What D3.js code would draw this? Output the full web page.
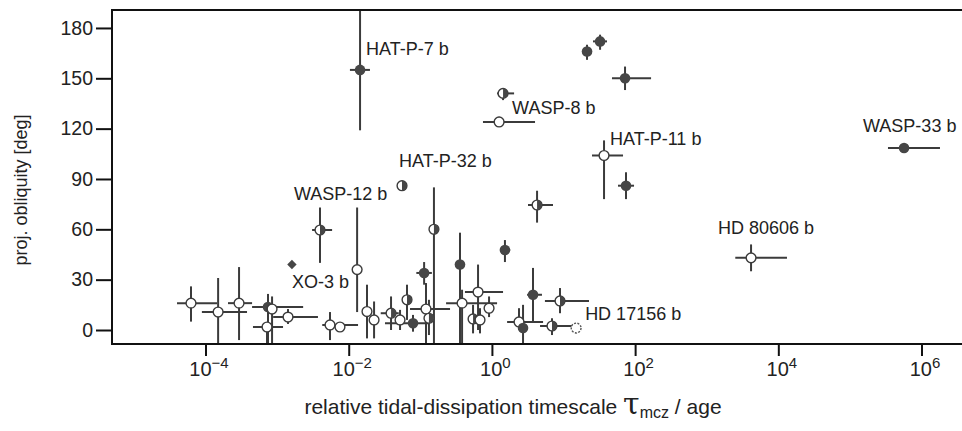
<!DOCTYPE html>
<html>
<head>
<meta charset="utf-8">
<script src="https://cdn.jsdelivr.net/npm/d3@7"></script>
<style>
  html, body { margin: 0; padding: 0; background: #fff; }
  svg { display: block; font-family: "Liberation Sans", Arial, sans-serif; }
</style>
</head>
<body>
<svg id="chart" width="962" height="431"></svg>
<script>
// ---------- data ----------
// relative tidal-dissipation timescale tau_mcz / age (central value, lower, upper)
const tau   = [1.44e-2, 1.43, 1.26, 21.3, 32.4, 72.3, 36.8, 74.6, 5.70e5, 4160,
               4.27, 0.0555, 3.97e-3, 1.61e-3, 6.27e-5, 1.50e-4, 2.94e-4, 7.46e-4, 8.5e-4, 7.23e-4,
               1.42e-3, 5.48e-3, 7.55e-3, 1.31e-2, 1.80e-2, 2.26e-2, 3.90e-2, 5.21e-2, 6.52e-2, 7.91e-2,
               0.113, 0.155, 0.120, 0.132, 0.358, 0.383, 0.64, 0.912, 0.545, 0.682,
               1.52, 2.39, 2.72, 3.75, 8.93, 6.90, 15.0];
const tauLo = [1.04e-2, 1.18, 0.75, 18.1, 25.8, 47.5, 25.0, 57.7, 3.40e5, 2506,
               3.19, null, 3.08e-3, null, 4.0e-5, 8.9e-5, 2.06e-4, 4.47e-4, null, 4.6e-4,
               8.8e-4, 4.27e-3, null, 1.12e-2, 1.6e-2, null, 2.8e-2, 4.5e-2, null, 3.21e-2,
               0.088, null, 0.0718, null, null, 0.229, 0.42, 0.78, null, null,
               1.3, 1.63, null, 3.1, 5.50, 4.70, null];
const tauHi = [1.98e-2, 2.04, 4.0, 25.0, 40.5, 167, 67.8, 96.6, 1.81e6, 13210,
               7.13, null, 5.86e-3, null, 1.45e-4, 3.8e-4, 4.47e-4, 2.31e-3, null, 1.21e-3,
               3.72e-3, 1.35e-2, null, 1.5e-2, 2.0e-2, null, 5.0e-2, 6.0e-2, null, 0.136,
               0.145, null, 0.26, null, null, 1.18, 1.43, 1.06, null, null,
               1.8, 5.18, null, 5.0, 22.7, 14.96, null];
// projected obliquity [deg] (central value, lower, upper)
const obl   = [155, 141, 124, 166, 172, 150, 104, 86, 108.5, 43,
               74.5, 86, 59.6, 39, 16, 10.7, 16, 13.7, 12.5, 1.8,
               7.7, 3, 1.8, 36, 11, 6, 10, 6, 18, 4,
               34, 60, 12.5, 7, 39, 16, 22.6, 13, 6.6, 6,
               47.7, 4.8, 1.2, 21, 17.3, 2.4, 1.2];
const oblLo = [119, 137, 121, 161, 167, 143, 78, 78, null, 35,
               64, null, 40, null, 5, -9, -6, -9, -9, -9,
               3.6, -6, null, 10.7, -5, -5, 0, 0, 6, -1,
               27, -9, -9, -3, -9, -9, 0, 7.7, -2, -2,
               40.5, 0, -9, 5, 10, -3, -2];
const oblHi = [200, 144, 127, 170, 176, 157, 113, 94, null, 51,
               83, null, 73, null, 26, 31, 37.5, 21.5, 20, 4,
               12.5, 10.7, null, 73, 27, 17, 20, 12, 27, 9,
               40.5, 85, 28, 18, 58, 24, 39, 20, 15, 13,
               53.6, 13, 15, 37, 25, 7, 4];
// marker kind: F = filled, O = open, H = half-filled, D = diamond, P = dotted open
const kind  = ["F","H","O","F","F","F","O","F","F","O",
               "H","H","H","D","O","O","O","F","O","O",
               "O","O","O","O","O","O","H","O","H","F",
               "F","H","O","H","F","O","O","O","H","O",
               "F","O","F","F","H","H","P"];
// planet labels and the point they belong to
const labelNames = ["HAT-P-7 b", "WASP-8 b", "HAT-P-11 b", "WASP-33 b", "HD 80606 b",
                    "HD 17156 b", "HAT-P-32 b", "WASP-12 b", "XO-3 b"];
const labelPoint = [0, 2, 6, 8, 9, 46, 11, 12, 13];
// axis ticks
const xTickExp = [-4, -2, 0, 2, 4, 6];
const yTicks   = [0, 30, 60, 90, 120, 150, 180];

// ---------- layout ----------
const W = 962, H = 431;
const mL = 112, mT = 10, mB = 344, mR = 970;
const labelOffset = [[6,-15],[13,-8],[6,-10],[-41,-16],[-33,-24],[9,-8],[-3,-19],[-26,-30],[0,23]];

const x = d3.scaleLog().domain([Math.pow(10,-5.306), Math.pow(10,6.677)]).range([mL, mR]);
const y = d3.scaleLinear().domain([-8.34, 190.7]).range([mB, mT]);

const svg = d3.select("#chart");
svg.append("rect").attr("width", W).attr("height", H).attr("fill", "#fff");

svg.append("defs").append("clipPath").attr("id", "plotclip")
  .append("rect").attr("x", mL).attr("y", mT).attr("width", mR - mL).attr("height", mB - mT);

const pts = tau.map((t, i) => ({
  t, tl: tauLo[i], th: tauHi[i], o: obl[i], ol: oblLo[i], oh: oblHi[i], k: kind[i]
}));

const plot = svg.append("g").attr("clip-path", "url(#plotclip)");
const barColor = "#3b3b3b", dark = "#464646";

// error bars
const eb = plot.append("g").attr("stroke", barColor).attr("stroke-width", 2);
pts.forEach(p => {
  if (p.tl != null) eb.append("line").attr("x1", x(p.tl)).attr("x2", x(p.th)).attr("y1", y(p.o)).attr("y2", y(p.o));
  if (p.ol != null) eb.append("line").attr("x1", x(p.t)).attr("x2", x(p.t)).attr("y1", y(p.ol)).attr("y2", y(p.oh));
});

// markers
const r = 4.9;
const mk = plot.append("g");
pts.forEach(p => {
  const cx = x(p.t), cy = y(p.o);
  if (p.k === "F") {
    mk.append("circle").attr("cx", cx).attr("cy", cy).attr("r", r + 0.4).attr("fill", dark);
  } else if (p.k === "O" || p.k === "P") {
    const c = mk.append("circle").attr("cx", cx).attr("cy", cy).attr("r", r)
      .attr("fill", "#fff").attr("stroke", barColor).attr("stroke-width", 1.4);
    if (p.k === "P") c.attr("stroke-dasharray", "2,1.4").attr("stroke", "#555");
  } else if (p.k === "H") {
    mk.append("circle").attr("cx", cx).attr("cy", cy).attr("r", r)
      .attr("fill", "#fff").attr("stroke", barColor).attr("stroke-width", 1.4);
    mk.append("path").attr("d", `M${cx},${cy - r} A${r},${r} 0 0 1 ${cx},${cy + r} Z`).attr("fill", dark);
  } else if (p.k === "D") {
    mk.append("path").attr("d", d3.symbol(d3.symbolSquare, 44)())
      .attr("transform", `translate(${cx},${cy}) rotate(45)`).attr("fill", dark);
  }
});

// planet labels
const lab = svg.append("g").attr("font-size", 18).attr("fill", "#222");
labelNames.forEach((n, i) => {
  const p = pts[labelPoint[i]];
  lab.append("text").attr("x", x(p.t) + labelOffset[i][0]).attr("y", y(p.o) + labelOffset[i][1]).text(n);
});

// frame
const frame = svg.append("g").attr("stroke", "#111").attr("stroke-width", 2).attr("fill", "none");
frame.append("path").attr("d", `M${mR},${mT} H${mL} V${mB} H${mR}`);

// y axis
const yAxis = svg.append("g").attr("transform", `translate(${mL},0)`)
  .call(d3.axisLeft(y).tickValues(yTicks).tickSize(16).tickPadding(3));
yAxis.select(".domain").remove();
yAxis.selectAll(".tick line").attr("stroke", "#111").attr("stroke-width", 2);
yAxis.selectAll(".tick text").attr("font-size", 19.5).attr("fill", "#222")
  .attr("font-family", "Liberation Sans, Arial, sans-serif");

// x axis
const xAxis = svg.append("g").attr("transform", `translate(0,${mB})`)
  .call(d3.axisBottom(x).tickValues(xTickExp.map(e => Math.pow(10, e))).tickSize(12).tickFormat(""));
xAxis.select(".domain").remove();
xAxis.selectAll(".tick line").attr("stroke", "#111").attr("stroke-width", 2);
xAxis.selectAll(".tick").each(function(d, i) {
  const t = d3.select(this).append("text").attr("x", 3).attr("y", 32).attr("text-anchor", "middle")
    .attr("fill", "#222").attr("font-size", 20).attr("font-family", "Liberation Sans, Arial, sans-serif");
  t.append("tspan").text("10");
  const e = xTickExp[i];
  t.append("tspan").attr("dy", -8).attr("font-size", 15).text(e < 0 ? "\u2212" + (-e) : String(e));
});

// axis titles
svg.append("text").attr("transform", `translate(27,190) rotate(-90)`).attr("text-anchor", "middle")
  .attr("font-size", 18).attr("fill", "#222").text("proj. obliquity [deg]");

const xt = svg.append("text").attr("x", 513).attr("y", 414).attr("text-anchor", "middle")
  .attr("font-size", 21).attr("fill", "#222");
xt.append("tspan").text("relative tidal-dissipation timescale ");
xt.append("tspan").attr("font-size", 30).attr("font-family", "DejaVu Serif, serif").text("\u03C4");
xt.append("tspan").attr("font-size", 16).attr("dy", 4).text("mcz");
xt.append("tspan").attr("dy", -4).text(" / age");
</script>
</body>
</html>
